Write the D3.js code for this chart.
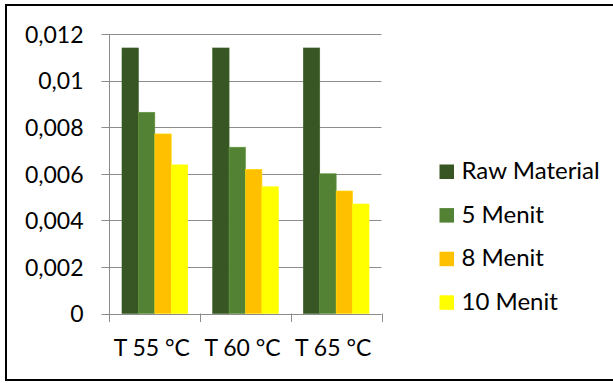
<!DOCTYPE html>
<html><head><meta charset="utf-8">
<script src="https://cdn.jsdelivr.net/npm/d3@7"></script>
<style>body{margin:0;background:#fff}svg{display:block}text{font-family:Lato,"Open Sans",sans-serif;fill:#000}</style>
</head><body><svg id="c" width="613" height="383"></svg>
<script>
const categories = ["T 55 °C", "T 60 °C", "T 65 °C"];
const seriesNames = ["Raw Material", "5 Menit", "8 Menit", "10 Menit"];
const rawMaterial = [0.0114, 0.0114, 0.0114];
const menit5 = [0.00864, 0.00714, 0.0060];
const menit8 = [0.00771, 0.00619, 0.00526];
const menit10 = [0.00638, 0.00544, 0.0047];
const yTicks = [0, 0.002, 0.004, 0.006, 0.008, 0.01, 0.012];
const colors = ["#375623", "#548235", "#FFC000", "#FFFF00"];
const seriesValues = [rawMaterial, menit5, menit8, menit10];

const svg = d3.select("#c");
svg.append("rect").attr("x",6).attr("y",5).attr("width",620).attr("height",375)
  .attr("fill","#fff").attr("stroke","#000").attr("stroke-width",2);

const x0 = d3.scaleBand().domain(categories).range([109.5, 381.5]).paddingInner(0).paddingOuter(0);
const x1 = d3.scaleBand().domain(seriesNames).range([0, x0.bandwidth()]).paddingOuter(0.76).paddingInner(0);
const y = d3.scaleLinear().domain([0, 0.012]).range([313.5, 34]);
const fmt = d => d === 0 ? "0" : String(+d.toFixed(3)).replace(".", ",");

// gridlines
svg.append("g").selectAll("line").data(yTicks).join("line")
  .attr("x1",101.5).attr("x2",381.5).attr("y1",d=>Math.round(y(d))+0.5).attr("y2",d=>Math.round(y(d))+0.5)
  .attr("stroke","#8c8c8c").attr("stroke-width",1);

// bars
const g = svg.append("g");
categories.forEach((c, ci) => {
  seriesNames.forEach((s, si) => {
    const v = seriesValues[si][ci];
    g.append("rect").attr("x", x0(c) + x1(s)).attr("width", x1.bandwidth())
      .attr("y", y(v)).attr("height", y(0) - y(v)).attr("fill", colors[si])
      .attr("stroke", d3.color(colors[si]).brighter(0.4)).attr("stroke-width", 0.6);
  });
});

// y axis
const yAxis = d3.axisLeft(y).tickValues(yTicks).tickFormat(fmt).tickSize(0).tickPadding(26);
const ya = svg.append("g").attr("transform","translate(109.5,0)").call(yAxis);
ya.select(".domain").remove();
ya.selectAll("text").style("font-size","23px").attr("dy","0.36em").attr("font-family","Lato");
svg.append("line").attr("x1",109.5).attr("x2",109.5).attr("y1",34).attr("y2",322).attr("stroke","#8c8c8c");

// x axis
const xAxis = d3.axisBottom(x0).tickSize(0).tickPadding(0);
const xa = svg.append("g").attr("transform","translate(0,313.5)").call(xAxis);
xa.select(".domain").remove();
xa.selectAll("text").style("font-size","23px").attr("y",42).attr("dy",0).attr("dx",-3).attr("font-family","Lato");
svg.append("g").selectAll("line").data(categories.map(c=>x0(c)+x0.bandwidth())).join("line")
  .attr("x1",d=>Math.round(d)+0.5).attr("x2",d=>Math.round(d)+0.5).attr("y1",313.5).attr("y2",322).attr("stroke","#8c8c8c");

// legend
const lg = svg.append("g");
seriesNames.forEach((s, i) => {
  const yy = 164.5 + i * 43.6;
  lg.append("rect").attr("x",439.5).attr("y",yy).attr("width",14.5).attr("height",14.5).attr("fill",colors[i]);
  lg.append("text").attr("x",461.5).attr("y",yy+14.5).style("font-size","24px").text(s);
});
</script></body></html>
